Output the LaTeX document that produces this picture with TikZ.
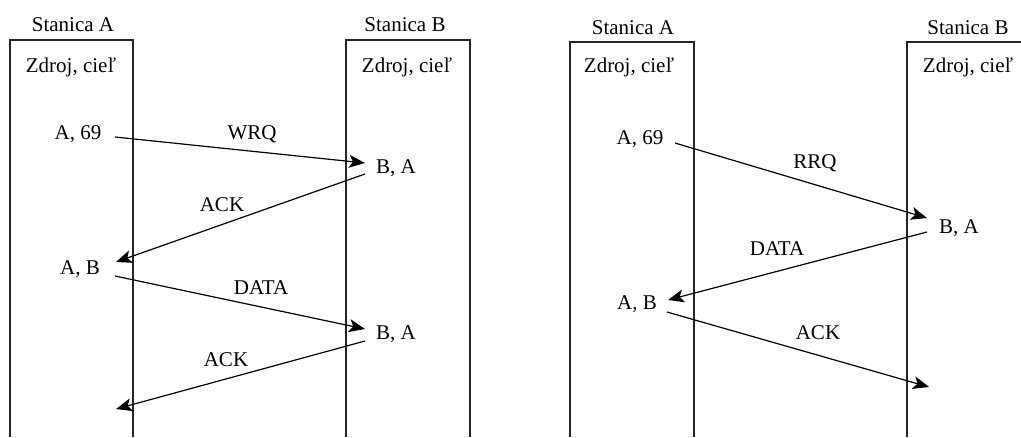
\documentclass[tikz,border=0pt]{standalone}
\usepackage{fontspec}
\setmainfont{Liberation Serif}
\usetikzlibrary{arrows.meta}
\tikzset{
  lbl/.style={inner sep=0pt, font=\fontsize{21}{24}\selectfont},
  lane/.style={line width=1.3pt, draw=black!85},
  msg/.style={line width=1.2pt, -{Stealth[length=16pt,width=13pt,inset=4pt]}},
}
\begin{document}
\begin{tikzpicture}[x=1pt,y=-1pt]
\useasboundingbox[fill=white] (0,0) rectangle (1021,437);
% ---------- left diagram ----------
\draw[lane] (10,437) -- (10,40) -- (133,40) -- (133,437);
\draw[lane] (346,437) -- (346,40) -- (470,40) -- (470,437);
\node[lbl] (lsa) at (73,25) {Stanica A};
\node[lbl] (lsb) at (405,25) {Stanica B};
\node[lbl] (lza) at (71,67) {Zdroj, cieľ};
\node[lbl] (lzb) at (407,67) {Zdroj, cieľ};
\node[lbl] (la69) at (78,134) {A, 69};
\node[lbl] (lba1) at (396,168) {B, A};
\node[lbl] (lab) at (80,269) {A, B};
\node[lbl] (lba2) at (396,334) {B, A};
\coordinate (l1s) at (115,137);
\coordinate (l1e) at (365,163);
\coordinate (l2s) at (365,174);
\coordinate (l2e) at (116,262);
\coordinate (l3s) at (115,276);
\coordinate (l3e) at (365,329);
\coordinate (l4s) at (365,341);
\coordinate (l4e) at (116,409);
\draw[msg] (l1s) -- (l1e);
\draw[msg] (l2s) -- (l2e);
\draw[msg] (l3s) -- (l3e);
\draw[msg] (l4s) -- (l4e);
\node[lbl] (lwrq) at (252,134) {WRQ};
\node[lbl] (lack1) at (222,205) {ACK};
\node[lbl] (ldata) at (261,288) {DATA};
\node[lbl] (lack2) at (226,360) {ACK};
% ---------- right diagram ----------
\draw[lane] (570,437) -- (570,42) -- (694,42) -- (694,437);
\draw[lane] (907,437) -- (907,42) -- (1021,42);
\node[lbl] (rsa) at (633,28) {Stanica A};
\node[lbl] (rsb) at (968,28) {Stanica B};
\node[lbl] (rza) at (629,67) {Zdroj, cieľ};
\node[lbl] (rzb) at (968,67) {Zdroj, cieľ};
\node[lbl] (ra69) at (640,139) {A, 69};
\node[lbl] (rba) at (959,228) {B, A};
\node[lbl] (rab) at (637,304) {A, B};
\coordinate (r1s) at (675,143);
\coordinate (r1e) at (927,218);
\coordinate (r2s) at (927,232);
\coordinate (r2e) at (668,300);
\coordinate (r3s) at (667,312);
\coordinate (r3e) at (929,387);
\draw[msg] (r1s) -- (r1e);
\draw[msg] (r2s) -- (r2e);
\draw[msg] (r3s) -- (r3e);
\node[lbl] (rrrq) at (815,163) {RRQ};
\node[lbl] (rdata) at (777,249) {DATA};
\node[lbl] (rack) at (818,333) {ACK};
\end{tikzpicture}
\end{document}
